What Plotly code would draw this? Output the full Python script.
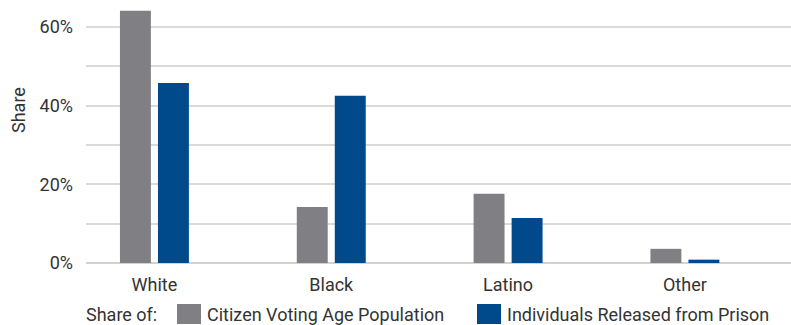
import plotly.graph_objects as go

categories = ["White", "Black", "Latino", "Other"]
series_names = ["Citizen Voting Age Population", "Individuals Released from Prison"]
cvap = [64.1, 14.2, 17.6, 3.6]
released = [45.7, 42.5, 11.4, 0.85]
y_tickvals = [0, 20, 40, 60]
y_ticktext = ["0%", "20%", "40%", "60%"]
legend_title = "Share of:"
y_title = "Share"

colors = ["#808084", "#004a8c"]
FONT = "Roboto"
TXT = "#333333"
FS = 18

W, H = 791, 325
ml, mr, mt, mb = 86, 0, 0, 62

fig = go.Figure()
for name, vals, col, off in zip(series_names, [cvap, released], colors, [-0.195, 0.02]):
    fig.add_trace(go.Bar(
        x=categories, y=vals, name=name,
        marker=dict(color=col, line=dict(width=0)),
        width=0.175, offset=off, showlegend=False,
    ))

fig.update_layout(
    width=W, height=H,
    margin=dict(l=ml, r=mr, t=mt, b=mb, pad=0),
    paper_bgcolor="white", plot_bgcolor="white",
    font=dict(family=FONT, size=FS, color=TXT),
    barmode="overlay",
    xaxis=dict(range=[-0.387, 3.6], showgrid=False, showline=False, zeroline=False,
               ticks="", tickfont=dict(size=FS, color=TXT), ticklabelstandoff=9),
    yaxis=dict(range=[0, 66.8], tickvals=y_tickvals, ticktext=y_ticktext,
               showgrid=True, gridcolor="#dadada", gridwidth=1.5,
               minor=dict(dtick=10, showgrid=True, gridcolor="#dadada", gridwidth=1.5),
               zeroline=True, zerolinecolor="#d2d2d2", zerolinewidth=2,
               showline=False, ticks="", ticklabelstandoff=12,
               tickfont=dict(size=FS, color=TXT)),
)

pw, ph = W - ml - mr, H - mt - mb

def px_to_paper_x(px):
    return (px - ml) / pw

def py_to_paper_y(py):
    return (H - mb - py) / ph

# y-axis title
fig.add_annotation(text=y_title, xref="paper", yref="paper",
                   x=px_to_paper_x(18), y=py_to_paper_y(110), textangle=-90,
                   showarrow=False, xanchor="center", yanchor="middle",
                   font=dict(size=FS, color=TXT))

# legend
ly = 314
fig.add_annotation(text=legend_title, xref="paper", yref="paper",
                   x=px_to_paper_x(84), y=py_to_paper_y(ly), showarrow=False,
                   xanchor="left", yanchor="middle", font=dict(size=FS, color=TXT))
sq = [(177, 201, 205), (477, 501, 505)]
for (x0, x1, tx), name, col in zip(sq, series_names, colors):
    fig.add_shape(type="rect", xref="paper", yref="paper",
                  x0=px_to_paper_x(x0), x1=px_to_paper_x(x1),
                  y0=py_to_paper_y(ly - 10), y1=py_to_paper_y(ly + 10),
                  fillcolor=col, line=dict(width=0))
    fig.add_annotation(text=name, xref="paper", yref="paper",
                       x=px_to_paper_x(tx), y=py_to_paper_y(ly), showarrow=False,
                       xanchor="left", yanchor="middle", font=dict(size=FS, color=TXT))

fig.write_html("out.html")
